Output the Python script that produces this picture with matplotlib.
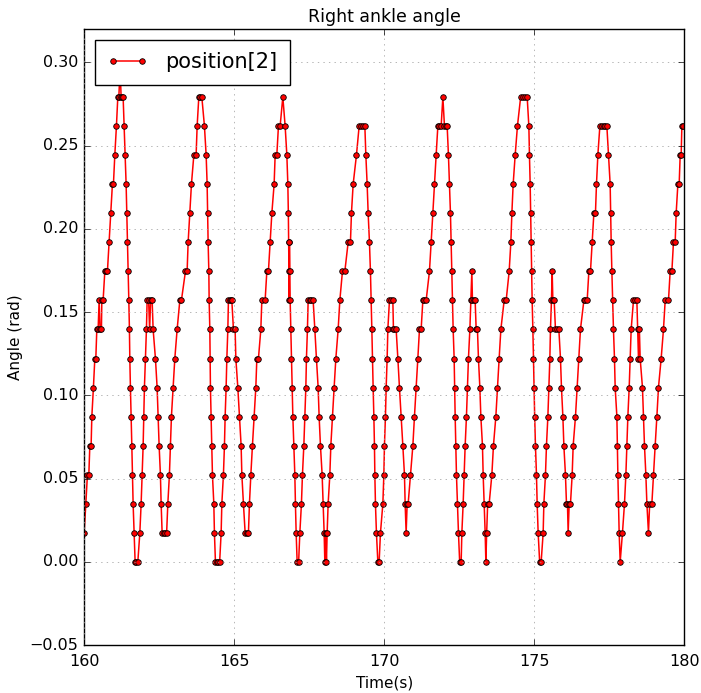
import numpy as np
import matplotlib
matplotlib.use('Agg')
import matplotlib.pyplot as plt

# time stamps (s) and ankle angle (whole degrees, plotted in rad)
time_s = [
    160.000, 160.057, 160.110, 160.157, 160.190, 160.233, 160.257, 160.310, 160.357, 160.390,
    160.423, 160.467, 160.500, 160.533, 160.577, 160.590, 160.633, 160.690, 160.733, 160.777,
    160.833, 160.890, 160.943, 160.977, 161.023, 161.077, 161.123, 161.157, 161.200, 161.233,
    161.267, 161.300, 161.333, 161.367, 161.400, 161.423, 161.443, 161.467, 161.490, 161.510,
    161.523, 161.543, 161.567, 161.590, 161.610, 161.633, 161.667, 161.700, 161.743, 161.790,
    # hump 1
    161.857, 161.900, 161.933, 161.967, 161.990, 162.010, 162.043, 162.077, 162.100, 162.150,
    162.183, 162.217, 162.267, 162.300, 162.377, 162.433, 162.467, 162.500, 162.543, 162.567,
    162.600, 162.650, 162.700, 162.750, 162.790, 162.843, 162.877, 162.910, 162.967, 163.023,
    163.100, 163.190, 163.243, 163.377, 163.433, 163.467, 163.523, 163.577, 163.657, 163.733,
    163.767, 163.823, 163.873, 163.923, 164.010, 164.067, 164.100, 164.117, 164.133, 164.157,
    164.167, 164.190, 164.200, 164.210, 164.233, 164.257, 164.277, 164.323, 164.343, 164.377,
    164.423, 164.467, 164.517,
    # hump 2
    164.567, 164.590, 164.643, 164.677, 164.700, 164.733, 164.757, 164.790, 164.810, 164.850,
    164.890, 164.923, 164.977, 165.033, 165.057, 165.123, 165.177, 165.233, 165.257, 165.310,
    165.367, 165.423, 165.477, 165.510, 165.557, 165.610, 165.667, 165.723, 165.757, 165.810,
    165.890, 165.923, 166.033, 166.090, 166.143, 166.200, 166.257, 166.333, 166.367, 166.423,
    166.477, 166.533, 166.623, 166.700, 166.757, 166.790, 166.807, 166.817, 166.827, 166.833,
    166.843, 166.857, 166.867, 166.890, 166.910, 166.933, 166.957, 166.990, 167.023, 167.043,
    167.067, 167.100, 167.150,
    # hump 3
    167.190, 167.243, 167.277, 167.323, 167.357, 167.390, 167.410, 167.443, 167.467, 167.523,
    167.577, 167.633, 167.690, 167.743, 167.800, 167.833, 167.877, 167.933, 167.967, 168.000,
    168.023, 168.050, 168.077, 168.100, 168.133, 168.190, 168.223, 168.277, 168.333, 168.390,
    168.467, 168.523, 168.610, 168.690, 168.800, 168.877, 168.910, 168.967, 169.077, 169.167,
    169.233, 169.300, 169.357, 169.390, 169.433, 169.467, 169.510, 169.543, 169.567, 169.590,
    169.610, 169.633, 169.657, 169.677, 169.690, 169.710, 169.743, 169.790, 169.833,
    # hump 4
    169.877, 169.957, 169.990, 170.010, 170.043, 170.067, 170.100, 170.123, 170.177, 170.233,
    170.290, 170.310, 170.343, 170.400, 170.457, 170.510, 170.567, 170.623, 170.677, 170.700,
    170.733, 170.767, 170.800, 170.877, 170.957, 171.010, 171.067, 171.123, 171.177, 171.233,
    171.290, 171.343, 171.400, 171.510, 171.567, 171.623, 171.677, 171.733, 171.790, 171.843,
    171.900, 171.957, 172.010, 172.057, 172.100, 172.143, 172.177, 172.210, 172.233, 172.257,
    172.277, 172.300, 172.333, 172.350, 172.367, 172.390, 172.410, 172.443, 172.477, 172.517,
    172.567,
    # hump 5
    172.590, 172.633, 172.667, 172.700, 172.743, 172.777, 172.810, 172.857, 172.890, 172.923,
    172.943, 172.990, 173.033, 173.067, 173.110, 173.143, 173.190, 173.223, 173.277, 173.300,
    173.333, 173.367, 173.390, 173.417, 173.450, 173.500, 173.590, 173.643, 173.723, 173.777,
    173.833, 173.890, 174.000, 174.067, 174.167, 174.223, 174.257, 174.300, 174.367, 174.443,
    174.550, 174.617, 174.700, 174.767, 174.823, 174.843, 174.867, 174.883, 174.900, 174.917,
    174.933, 174.957, 174.977, 174.997, 175.017, 175.043, 175.077, 175.100, 175.133, 175.183,
    175.233,
    # hump 6
    175.300, 175.323, 175.377, 175.410, 175.457, 175.490, 175.523, 175.543, 175.577, 175.600,
    175.623, 175.667, 175.710, 175.767, 175.823, 175.877, 175.910, 175.957, 175.990, 176.043,
    176.077, 176.110, 176.133, 176.167, 176.210, 176.267, 176.300, 176.377, 176.433, 176.490,
    176.543, 176.657, 176.710, 176.767, 176.823, 176.877, 176.933, 176.990, 177.043, 177.077,
    177.123, 177.190, 177.250, 177.317, 177.377, 177.423, 177.477, 177.533, 177.550, 177.567,
    177.590, 177.617, 177.643, 177.677, 177.700, 177.757, 177.773, 177.790, 177.810, 177.833,
    177.867,
    # hump 7
    177.943, 178.010, 178.057, 178.090, 178.123, 178.167, 178.200, 178.233, 178.310, 178.367,
    178.423, 178.450, 178.477, 178.507, 178.533, 178.610, 178.643, 178.677, 178.723, 178.757,
    178.810, 178.850, 178.923, 178.977, 179.033, 179.090, 179.143, 179.233, 179.310, 179.367,
    179.477, 179.533, 179.590, 179.643, 179.700, 179.733, 179.790, 179.833, 179.867, 179.900,
    179.923, 179.967,
]

angle_deg = [
    1, 2, 3, 3, 4, 4, 5, 6, 7, 7,
    8, 8, 9, 8, 8, 9, 9, 10, 10, 10,
    11, 12, 13, 13, 14, 15, 16, 16, 17, 16,
    16, 16, 15, 14, 13, 12, 11, 10, 9, 8,
    7, 6, 5, 4, 3, 2, 1, 0, 0, 0,
    # hump 1
    1, 2, 3, 4, 5, 6, 7, 8, 9, 9,
    8, 9, 9, 8, 7, 6, 5, 4, 3, 2,
    1, 1, 1, 1, 2, 3, 4, 5, 6, 7,
    8, 9, 9, 10, 10, 11, 12, 13, 14, 14,
    15, 16, 16, 16, 15, 14, 13, 12, 11, 10,
    9, 8, 7, 6, 5, 4, 3, 2, 1, 0,
    0, 0, 0,
    # hump 2
    1, 2, 3, 4, 5, 6, 7, 8, 9, 9,
    9, 9, 8, 8, 7, 6, 5, 4, 3, 2,
    1, 1, 1, 2, 3, 4, 5, 6, 7, 7,
    8, 9, 9, 10, 10, 11, 12, 13, 14, 14,
    15, 15, 16, 15, 14, 13, 12, 11, 10, 9,
    11, 10, 9, 8, 7, 6, 5, 4, 3, 2,
    1, 0, 0,
    # hump 3
    1, 2, 3, 4, 5, 6, 7, 8, 9, 9,
    9, 9, 8, 7, 6, 5, 4, 3, 2, 1,
    0, 1, 0, 1, 2, 3, 4, 5, 6, 7,
    8, 9, 10, 10, 11, 11, 12, 13, 14, 15,
    15, 15, 15, 14, 13, 12, 11, 10, 9, 8,
    7, 6, 5, 4, 3, 2, 1, 0, 0,
    # hump 4
    1, 2, 3, 4, 5, 6, 7, 8, 9, 9,
    9, 8, 8, 8, 7, 6, 5, 4, 3, 2,
    1, 2, 2, 3, 4, 5, 6, 7, 8, 8,
    9, 9, 9, 10, 11, 12, 13, 14, 15, 15,
    15, 16, 15, 15, 15, 14, 13, 12, 11, 10,
    9, 8, 7, 6, 5, 4, 3, 2, 1, 0,
    0,
    # hump 5
    1, 2, 3, 4, 5, 6, 7, 8, 9, 10,
    9, 9, 9, 8, 8, 7, 6, 5, 4, 3,
    2, 1, 0, 1, 2, 2, 3, 4, 5, 6,
    7, 8, 9, 9, 10, 11, 12, 13, 14, 15,
    16, 16, 16, 16, 15, 14, 13, 12, 11, 10,
    9, 8, 7, 6, 5, 4, 3, 2, 1, 0,
    0,
    # hump 6
    1, 2, 3, 4, 5, 6, 7, 8, 9, 10,
    9, 9, 8, 8, 8, 7, 6, 5, 4, 3,
    2, 2, 1, 2, 2, 3, 4, 5, 6, 7,
    8, 9, 9, 9, 10, 10, 11, 12, 12, 13,
    14, 15, 15, 15, 15, 15, 14, 13, 12, 11,
    10, 9, 8, 7, 6, 5, 4, 3, 2, 1,
    0,
    # hump 7
    1, 2, 3, 4, 5, 6, 7, 8, 9, 9,
    9, 8, 7, 8, 7, 6, 5, 4, 3, 2,
    1, 2, 2, 3, 4, 5, 6, 7, 8, 9,
    9, 10, 10, 11, 11, 12, 13, 13, 14, 14,
    15, 15,
]

y_ticks = [-0.05, 0.00, 0.05, 0.10, 0.15, 0.20, 0.25, 0.30]
x_ticks = [160, 165, 170, 175, 180]

t = np.array(time_s)
angle = np.deg2rad(np.array(angle_deg, dtype=float))

plt.style.use('classic')
fig = plt.figure(figsize=(7.01, 6.93), dpi=100, facecolor='white')
ax = fig.add_axes([0.12, 0.069, 0.856, 0.889])

ax.plot(t, angle, 'r-o', lw=1.1, ms=4, mec='k', mew=0.6, label='position[2]')

ax.set_xlim(160, 180)
ax.set_ylim(-0.05, 0.32)
ax.set_xticks(x_ticks)
ax.set_yticks(y_ticks)
ax.grid(True, color='0.6', linestyle=':')
ax.tick_params(axis='y', labelsize=11.5, pad=4)
ax.tick_params(axis='x', labelsize=11.5, pad=6)

ax.set_title('Right ankle angle', fontsize=12.5)
ax.set_xlabel('Time(s)', fontsize=11)
ax.set_ylabel('Angle (rad)', fontsize=11)
ax.legend(loc='upper left', fontsize=15, numpoints=2, borderaxespad=0.5,
          borderpad=0.6)

fig.savefig('out.png', dpi=100, facecolor='white')
